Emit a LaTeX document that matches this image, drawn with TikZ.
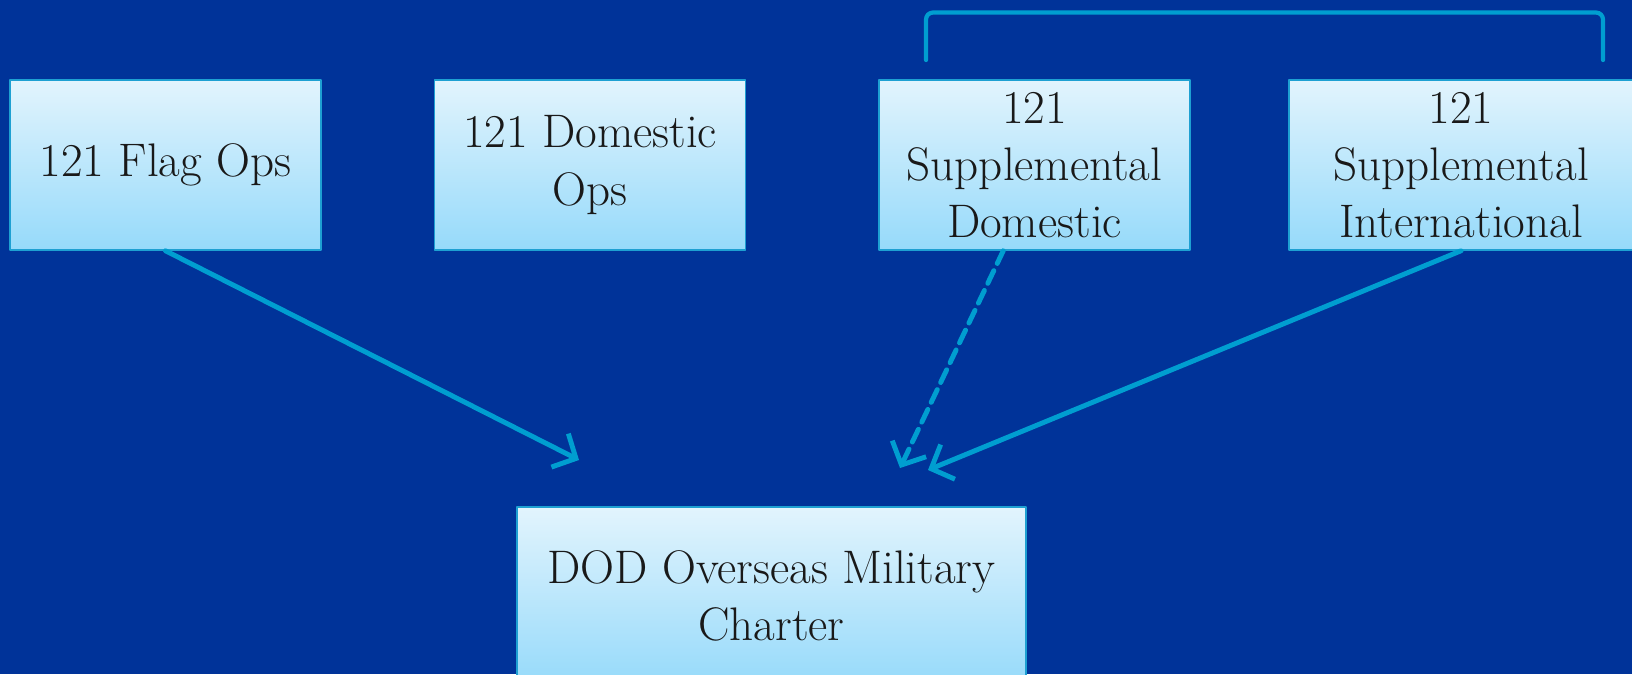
\documentclass[tikz,border=0pt]{standalone}
\usepackage{fontspec}
\usetikzlibrary{arrows.meta, calc}

\definecolor{navy}{RGB}{0,51,153}
\definecolor{cyanline}{RGB}{0,158,208}
\definecolor{boxtop}{RGB}{226,244,253}
\definecolor{boxbot}{RGB}{150,218,250}
\definecolor{boxedge}{RGB}{30,160,210}

\begin{document}
\begin{tikzpicture}[x=0.02cm, y=-0.02cm, line cap=round, line join=round,
    box/.style={draw=boxedge, line width=0.9pt, top color=boxtop, bottom color=boxbot,
      minimum width=6.22cm, minimum height=3.4cm, align=center, inner sep=2pt,
      font=\fontsize{26.8}{32.5}\selectfont, text=black!90},
    link/.style={draw=cyanline, line width=2.8pt},
    >={Straight Barb[length=3.6mm, width=7.5mm]}]
  \fill[navy] (0,0) rectangle (1632,674);
  \useasboundingbox (0,0) rectangle (1632,674);

  \node[box] (flag) at (165.5,165) {121 Flag Ops};
  \node[box] (dom) at (590,165) {121 Domestic\\Ops};
  \node[box] (supd) at (1034.5,165) {121\\Supplemental\\Domestic};
  \node[box, minimum width=6.88cm] (supi) at (1461,165) {121\\Supplemental\\International};
  \node[box, minimum width=10.18cm, minimum height=3.56cm] (dod) at (771.5,596)
    {DOD Overseas Military\\Charter};

  % bracket over the two supplemental boxes
  \coordinate (brL) at (926,60);
  \coordinate (brR) at (1603,60);
  \draw[link, line width=2.4pt, rounded corners=4pt]
    (brL) -- (926,12.5) -- (1603,12.5) -- (brR);

  \coordinate (tipA) at (579,460);
  \coordinate (tipB) at (900,468);
  \coordinate (tipC) at (928,470);
  \draw[link, ->] (flag.south) -- (tipA);
  \draw[link, ->, dash pattern=on 8pt off 4.5pt]
    ($(supd.south west)!0.4!(supd.south east)$) -- (tipB);
  \draw[link, ->] (supi.south) -- (tipC);
\end{tikzpicture}
\end{document}
